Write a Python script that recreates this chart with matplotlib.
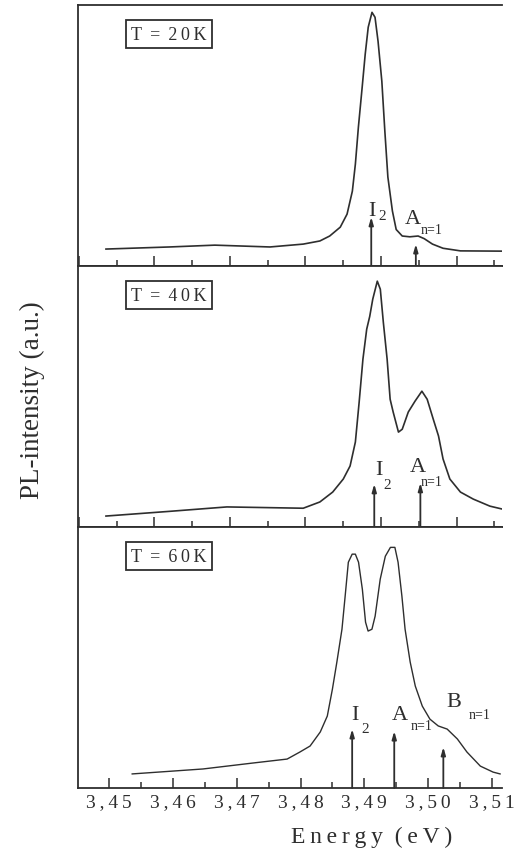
import numpy as np
import matplotlib.pyplot as plt
from matplotlib.ticker import FixedLocator

# PL spectra (energy in eV, intensity normalised to panel height)
e_20K = [3.4536, 3.4620, 3.4680, 3.4753, 3.4797, 3.4819, 3.4832, 3.4846, 3.4855, 3.4862,
         3.4866, 3.4870, 3.4875, 3.4879, 3.4883, 3.4888, 3.4892, 3.4896, 3.4901, 3.4905,
         3.4909, 3.4915, 3.4920, 3.4928, 3.4938, 3.4949, 3.4957, 3.4968, 3.4982, 3.5005,
         3.5060]
i_20K = [0.065, 0.073, 0.080, 0.073, 0.084, 0.096, 0.115, 0.149, 0.199, 0.287,
         0.391, 0.533, 0.686, 0.812, 0.916, 0.973, 0.954, 0.862, 0.709, 0.517,
         0.341, 0.211, 0.140, 0.115, 0.112, 0.115, 0.105, 0.084, 0.068, 0.058,
         0.057]

e_40K = [3.4536, 3.4620, 3.4696, 3.4797, 3.4819, 3.4836, 3.4850, 3.4859, 3.4866, 3.4871,
         3.4876, 3.4881, 3.4885, 3.4889, 3.4895, 3.4899, 3.4903, 3.4908, 3.4912, 3.4916,
         3.4923, 3.4928, 3.4936, 3.4945, 3.4954, 3.4961, 3.4969, 3.4976, 3.4982, 3.4991,
         3.5005, 3.5022, 3.5044, 3.5060]
i_40K = [0.042, 0.060, 0.077, 0.072, 0.096, 0.134, 0.184, 0.234, 0.326, 0.479,
         0.644, 0.759, 0.808, 0.874, 0.943, 0.912, 0.785, 0.644, 0.490, 0.441,
         0.364, 0.375, 0.441, 0.483, 0.521, 0.490, 0.414, 0.349, 0.261, 0.184,
         0.134, 0.107, 0.080, 0.069]

e_60K = [3.4536, 3.4647, 3.4726, 3.4779, 3.4799, 3.4815, 3.4831, 3.4842, 3.4850, 3.4857,
         3.4865, 3.4870, 3.4875, 3.4881, 3.4886, 3.4891, 3.4897, 3.4902, 3.4906, 3.4912,
         3.4917, 3.4925, 3.4933, 3.4941, 3.4948, 3.4953, 3.4959, 3.4964, 3.4972, 3.4980,
         3.4991, 3.5003, 3.5016, 3.5030, 3.5046, 3.5061, 3.5082, 3.5102, 3.5113]
i_60K = [0.054, 0.073, 0.096, 0.111, 0.138, 0.161, 0.215, 0.276, 0.379, 0.483,
         0.609, 0.736, 0.866, 0.897, 0.897, 0.866, 0.762, 0.636, 0.602, 0.609,
         0.659, 0.801, 0.889, 0.923, 0.923, 0.866, 0.736, 0.609, 0.483, 0.391,
         0.314, 0.264, 0.238, 0.226, 0.188, 0.138, 0.084, 0.061, 0.054]

temps = ["T = 20K", "T = 40K", "T = 60K"]

# arrow markers: energy, arrow height
arr_20K = [(3.4887, 0.188), (3.4946, 0.084)]
arr_40K = [(3.4891, 0.165), (3.4952, 0.169)]
arr_60K = [(3.4881, 0.226), (3.4947, 0.218), (3.5024, 0.157)]

xlim_top = (3.4499, 3.5060)
xlim_bot = (3.4451, 3.5116)
tick_labels = ["3,45", "3,46", "3,47", "3,48", "3,49", "3,50", "3,51"]

plt.rcParams['font.family'] = ['Liberation Serif', 'DejaVu Serif']
ink = "#2e2e2e"
SP = "\u2009"

fig = plt.figure(figsize=(5.22, 8.62), dpi=100)
left, width = 78 / 522, 424 / 522
h = 260.7 / 862
bottoms = [1 - 267 / 862, 1 - 528 / 862, 1 - 789 / 862]

spectra = [(e_20K, i_20K), (e_40K, i_40K), (e_60K, i_60K)]
arrows = [arr_20K, arr_40K, arr_60K]
axes = []
for k in range(3):
    ax = fig.add_axes([left, bottoms[k], width, h])
    axes.append(ax)
    e, i = spectra[k]
    ax.plot(e, i, color=ink, lw=1.2 if k < 2 else 1.0, solid_joinstyle='round')
    ax.set_ylim(0, 1)
    ax.set_xlim(*(xlim_bot if k == 2 else xlim_top))
    ax.set_yticks([])
    ax.spines['right'].set_visible(False)
    for s in ['left', 'bottom', 'top']:
        ax.spines[s].set_color(ink)
        ax.spines[s].set_linewidth(1.3)
    ax.xaxis.set_major_locator(FixedLocator([3.45, 3.46, 3.47, 3.48, 3.49, 3.50, 3.51]))
    ax.xaxis.set_minor_locator(FixedLocator([3.455, 3.465, 3.475, 3.485, 3.495, 3.505]))
    ax.tick_params(axis='x', which='major', direction='in', length=7, width=1.1, color=ink, pad=4)
    ax.tick_params(axis='x', which='minor', direction='in', length=4, width=1.1, color=ink)
    if k < 2:
        ax.set_xticklabels([])
    else:
        ax.set_xticklabels([SP.join(t) for t in tick_labels], fontsize=14, color=ink)
    ax.text(0.125, 0.889, SP.join(temps[k].replace(" ", "")).replace("=", " = "),
            transform=ax.transAxes, fontsize=13, color=ink, va='center', ha='left',
            bbox=dict(boxstyle='square,pad=0.3', fc='white', ec=ink, lw=1.3))
    for x, hh in arrows[k]:
        ax.annotate("", xy=(x, hh), xytext=(x, 0),
                    arrowprops=dict(arrowstyle='-|>,head_length=0.45,head_width=0.13',
                                    color=ink, lw=1.3, shrinkA=0, shrinkB=0))

fs = 16
# peak labels
a0, a1, a2 = axes
a0.text(3.4888, 0.195, "I", fontsize=fs, color=ink, ha='center')
a0.text(3.4902, 0.180, "2", fontsize=11, color=ink, ha='center')
a0.text(3.4932, 0.165, "A", fontsize=fs, color=ink, ha='left')
a0.text(3.4952, 0.125, "n=1", fontsize=10, color=ink, ha='left')

a1.text(3.4897, 0.205, "I", fontsize=fs, color=ink, ha='center')
a1.text(3.4908, 0.150, "2", fontsize=11, color=ink, ha='center')
a1.text(3.4938, 0.215, "A", fontsize=fs, color=ink, ha='left')
a1.text(3.4953, 0.160, "n=1", fontsize=10, color=ink, ha='left')

a2.text(3.4886, 0.265, "I", fontsize=fs, color=ink, ha='center')
a2.text(3.4902, 0.215, "2", fontsize=11, color=ink, ha='center')
a2.text(3.4943, 0.265, "A", fontsize=fs, color=ink, ha='left')
a2.text(3.4973, 0.225, "n=1", fontsize=10, color=ink, ha='left')
a2.text(3.5028, 0.315, "B", fontsize=fs, color=ink, ha='left')
a2.text(3.5063, 0.270, "n=1", fontsize=10, color=ink, ha='left')

fig.text(32 / 522, 1 - 400 / 862, "PL-intensity (a.u.)", rotation=90, fontsize=19.5,
         color=ink, ha='center', va='center')
fig.text(372 / 522, 1 - 837 / 862, SP.join("Energy") + "  " + SP.join("(eV)"),
         fontsize=17, color=ink, ha='center', va='center')

fig.savefig("out.png", dpi=100, facecolor='white')
